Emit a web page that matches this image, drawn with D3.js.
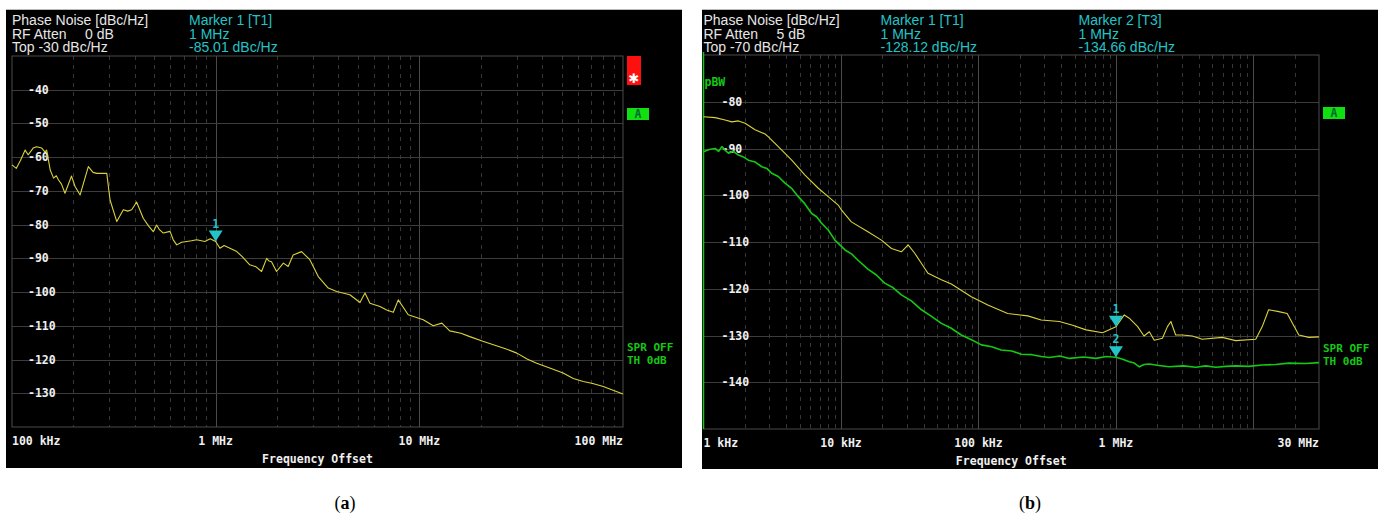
<!DOCTYPE html>
<html>
<head>
<meta charset="utf-8">
<script src="https://cdn.jsdelivr.net/npm/d3@7"></script>
<style>
  body { margin: 0; background: #fff; }
  .hdr { font-family: "Liberation Sans", Arial, sans-serif; font-size: 14px; }
  .mono { font-family: "DejaVu Sans Mono", "Liberation Mono", monospace; font-weight: bold; font-size: 11.5px; }
</style>
</head>
<body>
<svg id="chart" width="1387" height="521"></svg>
<script>
let svg = d3.select("#chart");

// -------------------- DATA -------------------- //

// panel (a): [offset Hz, dBc/Hz]
let traceA = [
  [1.00e5,-62.3],[1.05e5,-63.3],[1.10e5,-61.0],[1.16e5,-57.9],[1.20e5,-59.3],[1.27e5,-57.3],
  [1.32e5,-56.9],[1.40e5,-57.3],[1.45e5,-58.4],[1.48e5,-57.9],[1.54e5,-63.8],[1.60e5,-66.2],
  [1.65e5,-65.5],[1.69e5,-66.7],[1.75e5,-68.0],[1.82e5,-70.7],[1.96e5,-65.6],[2.04e5,-68.7],
  [2.16e5,-71.2],[2.37e5,-62.8],[2.50e5,-64.5],[2.61e5,-64.8],[2.92e5,-64.8],[3.03e5,-72.7],
  [3.27e5,-79.1],[3.52e5,-75.6],[3.70e5,-76.0],[3.87e5,-75.6],[4.09e5,-73.3],[4.41e5,-78.1],
  [4.70e5,-80.5],[4.94e5,-82.1],[5.13e5,-80.1],[5.30e5,-81.5],[5.53e5,-82.5],[5.97e5,-82.0],
  [6.19e5,-84.5],[6.44e5,-86.0],[6.80e5,-85.2],[7.21e5,-85.0],[7.60e5,-84.8],[8.07e5,-84.5],
  [8.85e5,-85.0],[9.40e5,-84.2],[1.00e6,-85.0],[1.05e6,-87.0],[1.10e6,-86.2],[1.175e6,-87.0],
  [1.27e6,-88.0],[1.35e6,-89.5],[1.47e6,-91.9],[1.58e6,-92.5],[1.68e6,-93.9],[1.78e6,-90.0],
  [1.83e6,-90.8],[1.88e6,-91.0],[1.99e6,-93.9],[2.15e6,-91.4],[2.27e6,-92.4],[2.40e6,-89.0],
  [2.64e6,-88.0],[2.90e6,-90.4],[3.19e6,-95.4],[3.57e6,-98.8],[3.93e6,-99.8],[4.56e6,-100.8],
  [5.11e6,-103.1],[5.41e6,-100.3],[5.72e6,-103.3],[6.41e6,-104.3],[6.91e6,-105.3],[7.45e6,-106.0],
  [7.88e6,-102.3],[8.82e6,-106.7],[1.045e7,-108.2],[1.17e7,-110.0],[1.29e7,-109.2],[1.41e7,-111.5],
  [1.60e7,-112.2],[1.77e7,-113.2],[2.05e7,-114.6],[2.31e7,-115.6],[2.65e7,-116.8],[3.01e7,-118.1],
  [3.40e7,-119.9],[3.77e7,-121.1],[4.40e7,-122.6],[5.08e7,-124.0],[5.70e7,-125.6],[6.38e7,-126.5],
  [7.10e7,-127.1],[8.00e7,-128.0],[9.00e7,-129.2],[1.00e8,-130.2]
];

// panel (b), trace 1 (yellow)
let traceB1 = [
  [1000,-83.2],[1216,-83.4],[1436,-83.9],[1607,-84.3],[1795,-84.1],[2008,-84.6],[2372,-86.0],
  [2805,-86.9],[2965,-87.5],[3500,-89.6],[4383,-92.5],[5470,-95.7],[6840,-98.5],[8075,-100.3],
  [9550,-102.1],[10100,-103.2],[11900,-105.7],[15700,-107.8],[19700,-109.6],[23300,-111.4],
  [27500,-112.1],[30800,-110.6],[34400,-112.4],[40600,-115.6],[43000,-116.7],[53700,-118.1],
  [63500,-119.0],[88700,-121.7],[117000,-123.5],[163000,-125.3],[228000,-125.8],[286000,-126.7],
  [388000,-127.0],[484000,-127.8],[606000,-128.8],[800000,-129.4],[1.0e6,-128.12],[1.15e6,-125.6],
  [1.25e6,-126.3],[1.44e6,-128.1],[1.60e6,-130.1],[1.75e6,-129.2],[1.90e6,-131.0],[2.18e6,-130.6],
  [2.37e6,-128.1],[2.51e6,-127.0],[2.72e6,-129.9],[3.04e6,-129.9],[3.59e6,-130.1],[4.25e6,-130.8],
  [5.94e6,-130.4],[7.43e6,-131.1],[1.04e7,-130.8],[1.16e7,-128.1],[1.29e7,-124.5],[1.53e7,-124.9],
  [1.76e7,-125.3],[2.14e7,-129.9],[2.53e7,-130.4],[3.0e7,-130.3]
];

// panel (b), trace 3 (green)
let traceB3 = [
  [1000,-90.7],[1100,-90.2],[1216,-90.0],[1290,-90.6],[1360,-89.6],[1440,-90.4],[1518,-91.0],
  [1650,-90.6],[1795,-91.4],[1950,-91.8],[2120,-92.5],[2380,-92.9],[2654,-93.9],[2900,-94.3],
  [3135,-95.3],[3500,-96.0],[3917,-97.4],[4400,-98.6],[4890,-100.3],[5450,-101.8],[6120,-103.9],
  [6650,-104.6],[7230,-106.0],[8100,-107.5],[9030,-109.6],[10700,-111.7],[12000,-112.6],
  [13300,-113.9],[15700,-115.8],[18000,-117.0],[20800,-118.8],[24000,-119.8],[27500,-121.3],
  [32500,-122.6],[38500,-124.5],[45000,-125.8],[53700,-127.4],[63000,-128.4],[75000,-129.9],
  [89000,-130.9],[105000,-132.0],[125000,-132.4],[146000,-133.1],[175000,-133.3],[205000,-134.0],
  [245000,-134.1],[286000,-134.5],[328000,-134.7],[390000,-134.4],[458000,-134.9],[580000,-134.6],
  [716000,-134.9],[850000,-134.5],[1.0e6,-134.66],[1.12e6,-135.1],[1.25e6,-135.6],[1.36e6,-135.9],
  [1.48e6,-136.7],[1.60e6,-136.2],[1.75e6,-136.1],[2.05e6,-136.4],[2.44e6,-136.7],[3.1e6,-136.5],
  [3.81e6,-136.8],[4.5e6,-136.5],[5.32e6,-136.8],[6.3e6,-136.6],[7.43e6,-136.5],[9.2e6,-136.6],
  [1.16e7,-136.3],[1.45e7,-136.2],[1.81e7,-135.9],[2.4e7,-136.0],[3.0e7,-135.8]
];

// axis tick labels
let aYTicks = [-40,-50,-60,-70,-80,-90,-100,-110,-120,-130];
let aXTickFreqs = [1e5, 1e6, 1e7, 1e8];
let aXTickLabels = ["100 kHz", "1 MHz", "10 MHz", "100 MHz"];

let bYTicks = [-80,-90,-100,-110,-120,-130,-140];
let bXTickFreqs = [1e3, 1e4, 1e5, 1e6, 3e7];
let bXTickLabels = ["1 kHz", "10 kHz", "100 kHz", "1 MHz", "30 MHz"];

// header texts
let aHeader = ["Phase Noise [dBc/Hz]", "RF Atten", "Top -30 dBc/Hz"];
let aAtten = "0 dB";
let aMarkers = [{ id: "1", name: "Marker 1 [T1]", freq: 1e6, level: -85.01 }];

let bHeader = ["Phase Noise [dBc/Hz]", "RF Atten", "Top -70 dBc/Hz"];
let bAtten = "5 dB";
let bMarkers = [
  { id: "1", name: "Marker 1 [T1]", freq: 1e6, level: -128.12 },
  { id: "2", name: "Marker 2 [T3]", freq: 1e6, level: -134.66 }
];

// colors
let COL_YELLOW = "#d9d23c";
let COL_GREEN = "#14c814";
let COL_CYAN = "#22c4c8";
let COL_GRID = "#3c3c3c";

// -------------------- PANEL -------------------- //

function fmtLabel(f) {
  if (f >= 1e6) return (f / 1e6) + " MHz";
  return (f / 1e3) + " kHz";
}

function drawPanel(cfg) {
  let g = svg.append("g").attr("class", "panel");

  // black screen
  g.append("rect").attr("x", cfg.bx).attr("y", cfg.by).attr("width", cfg.bw).attr("height", cfg.bh).attr("fill", "#000");
  g.append("line").attr("x1", cfg.bx).attr("x2", cfg.bx + cfg.bw).attr("y1", cfg.by + 0.5).attr("y2", cfg.by + 0.5)
    .attr("stroke", "#bbb").attr("stroke-width", 1);

  let x = d3.scaleLog().domain(cfg.xDomain).range([cfg.left, cfg.right]);
  let y = d3.scaleLinear().domain(cfg.yDomain).range([cfg.bottom, cfg.top]);

  // vertical grid: decades solid, rest dashed
  let xt = x.ticks().filter(f => f > cfg.xDomain[0] && f < cfg.xDomain[1]);
  g.selectAll(".vgrid").data(xt).enter().append("line")
    .attr("x1", d => Math.round(x(d)) + 0.5).attr("x2", d => Math.round(x(d)) + 0.5)
    .attr("y1", cfg.top).attr("y2", cfg.bottom)
    .attr("stroke", d => Math.abs(Math.log10(d) % 1) < 1e-6 ? "#4a4a4a" : "#363636")
    .attr("stroke-dasharray", d => Math.abs(Math.log10(d) % 1) < 1e-6 ? null : "4,5")
    .attr("stroke-width", 1);

  // horizontal grid
  g.selectAll(".hgrid").data(cfg.yTicks).enter().append("line")
    .attr("x1", cfg.left).attr("x2", cfg.right)
    .attr("y1", d => Math.round(y(d)) + 0.5).attr("y2", d => Math.round(y(d)) + 0.5)
    .attr("stroke", COL_GRID).attr("stroke-width", 1);

  // border
  g.append("rect").attr("x", cfg.left).attr("y", cfg.top)
    .attr("width", cfg.right - cfg.left).attr("height", cfg.bottom - cfg.top)
    .attr("fill", "none").attr("stroke", "#4a4a4a").attr("stroke-width", 1);
  if (cfg.greenLeft) {
    g.append("line").attr("x1", cfg.left).attr("x2", cfg.left).attr("y1", cfg.top - 3).attr("y2", cfg.bottom)
      .attr("stroke", COL_GREEN).attr("stroke-width", 1.5);
  }

  // y labels
  g.selectAll(".ylab").data(cfg.yTicks).enter().append("text")
    .attr("class", "mono").attr("x", cfg.left + cfg.yLabDx).attr("y", d => y(d) + 4)
    .attr("fill", "#f0f0f0").text(d => d);

  // x labels
  g.selectAll(".xlab").data(cfg.xTickFreqs).enter().append("text")
    .attr("class", "mono").attr("x", d => x(d)).attr("y", cfg.bottom + 18)
    .attr("text-anchor", (d, i) => i == 0 ? "start" : (i == cfg.xTickFreqs.length - 1 ? "end" : "middle"))
    .attr("fill", "#f0f0f0").text((d, i) => cfg.xTickLabels[i]);

  g.append("text").attr("class", "mono").attr("x", (cfg.left + cfg.right) / 2).attr("y", cfg.bottom + 36)
    .attr("text-anchor", "middle").attr("fill", "#f0f0f0").text("Frequency Offset");

  // header
  let hx = cfg.left;
  cfg.header.forEach((t, i) => {
    g.append("text").attr("class", "hdr").attr("x", hx).attr("y", 25 + i * 13.6).attr("fill", "#e6e6e6").text(t);
  });
  g.append("text").attr("class", "hdr").attr("x", hx + 73).attr("y", 25 + 13.6).attr("fill", "#e6e6e6").text(cfg.atten);
  cfg.markers.forEach((m, i) => {
    let mx = hx + 177 + i * 198;
    g.append("text").attr("class", "hdr").attr("x", mx).attr("y", 25).attr("fill", COL_CYAN).text(m.name);
    g.append("text").attr("class", "hdr").attr("x", mx).attr("y", 25 + 13.6).attr("fill", COL_CYAN).text(fmtLabel(m.freq));
    g.append("text").attr("class", "hdr").attr("x", mx).attr("y", 25 + 27.2).attr("fill", COL_CYAN).text(m.level.toFixed(2) + " dBc/Hz");
  });

  // traces
  let line = d3.line().x(d => x(d[0])).y(d => y(d[1])).curve(d3.curveLinear);
  cfg.traces.forEach(t => {
    g.append("path").datum(t.data).attr("d", line)
      .attr("fill", "none").attr("stroke", t.color).attr("stroke-width", t.width)
      .attr("stroke-linejoin", "round");
  });

  // markers
  g.selectAll(".mk").data(cfg.markers).enter().append("path")
    .attr("d", d => {
      let px = x(d.freq), py = y(d.level);
      return `M${px - 7},${py - 11}L${px + 7},${py - 11}L${px},${py}Z`;
    })
    .attr("fill", COL_CYAN);
  g.selectAll(".mkl").data(cfg.markers).enter().append("text")
    .attr("class", "mono").attr("x", d => x(d.freq)).attr("y", d => y(d.level) - 14)
    .attr("text-anchor", "middle").attr("fill", COL_CYAN).text(d => d.id);

  // side annotations
  let sx = cfg.right + 4;
  if (cfg.redBox) {
    g.append("rect").attr("x", sx).attr("y", cfg.top).attr("width", 14).attr("height", 29).attr("fill", "#ff1010");
    g.append("text").attr("x", sx + 7).attr("y", cfg.top + 27)
      .attr("text-anchor", "middle").attr("fill", "#fff")
      .style("font-family", "'DejaVu Sans', sans-serif").style("font-size", "13px").text("\u2731");
  }
  g.append("rect").attr("x", sx).attr("y", cfg.aBoxY).attr("width", 22).attr("height", 12).attr("fill", "#10e010");
  g.append("text").attr("class", "mono").attr("x", sx + 11).attr("y", cfg.aBoxY + 10)
    .attr("text-anchor", "middle").attr("fill", "#063").text("A");
  g.append("text").attr("class", "mono").attr("x", sx).attr("y", cfg.sprY).attr("fill", COL_GREEN)
    .style("font-size", "11px").text("SPR OFF");
  g.append("text").attr("class", "mono").attr("x", sx).attr("y", cfg.sprY + 13).attr("fill", COL_GREEN)
    .style("font-size", "11px").text("TH 0dB");
  if (cfg.pbw) {
    g.append("text").attr("class", "mono").attr("x", cfg.left + 1).attr("y", cfg.top + 31).attr("fill", COL_GREEN).text("pBW");
  }

  // caption
  let cap = svg.append("text").attr("x", cfg.capX).attr("y", 509).attr("text-anchor", "middle")
    .style("font-family", "'Liberation Serif', 'Times New Roman', serif").style("font-size", "18px").attr("fill", "#000");
  cap.append("tspan").text("(");
  cap.append("tspan").style("font-weight", "bold").text(cfg.capLetter);
  cap.append("tspan").text(")");
}

drawPanel({
  bx: 6, by: 9, bw: 676, bh: 459,
  left: 12, right: 623, top: 56, bottom: 427,
  xDomain: [1e5, 1e8], yDomain: [-140, -30],
  yTicks: aYTicks, xTickFreqs: aXTickFreqs, xTickLabels: aXTickLabels, yLabDx: 16,
  header: aHeader, atten: aAtten, markers: aMarkers,
  traces: [{ data: traceA, color: COL_YELLOW, width: 1.1 }],
  redBox: true, aBoxY: 108, sprY: 351, pbw: false, greenLeft: false,
  capX: 345, capLetter: "a"
});

drawPanel({
  bx: 702, by: 9, bw: 676, bh: 460,
  left: 703.5, right: 1319, top: 55, bottom: 429,
  xDomain: [1e3, 3e7], yDomain: [-150, -70],
  yTicks: bYTicks, xTickFreqs: bXTickFreqs, xTickLabels: bXTickLabels, yLabDx: 18,
  header: bHeader, atten: bAtten, markers: bMarkers,
  traces: [{ data: traceB3, color: COL_GREEN, width: 1.6 }, { data: traceB1, color: COL_YELLOW, width: 1.1 }],
  redBox: false, aBoxY: 107, sprY: 352, pbw: true, greenLeft: true,
  capX: 1030, capLetter: "b"
});
</script>
</body>
</html>
